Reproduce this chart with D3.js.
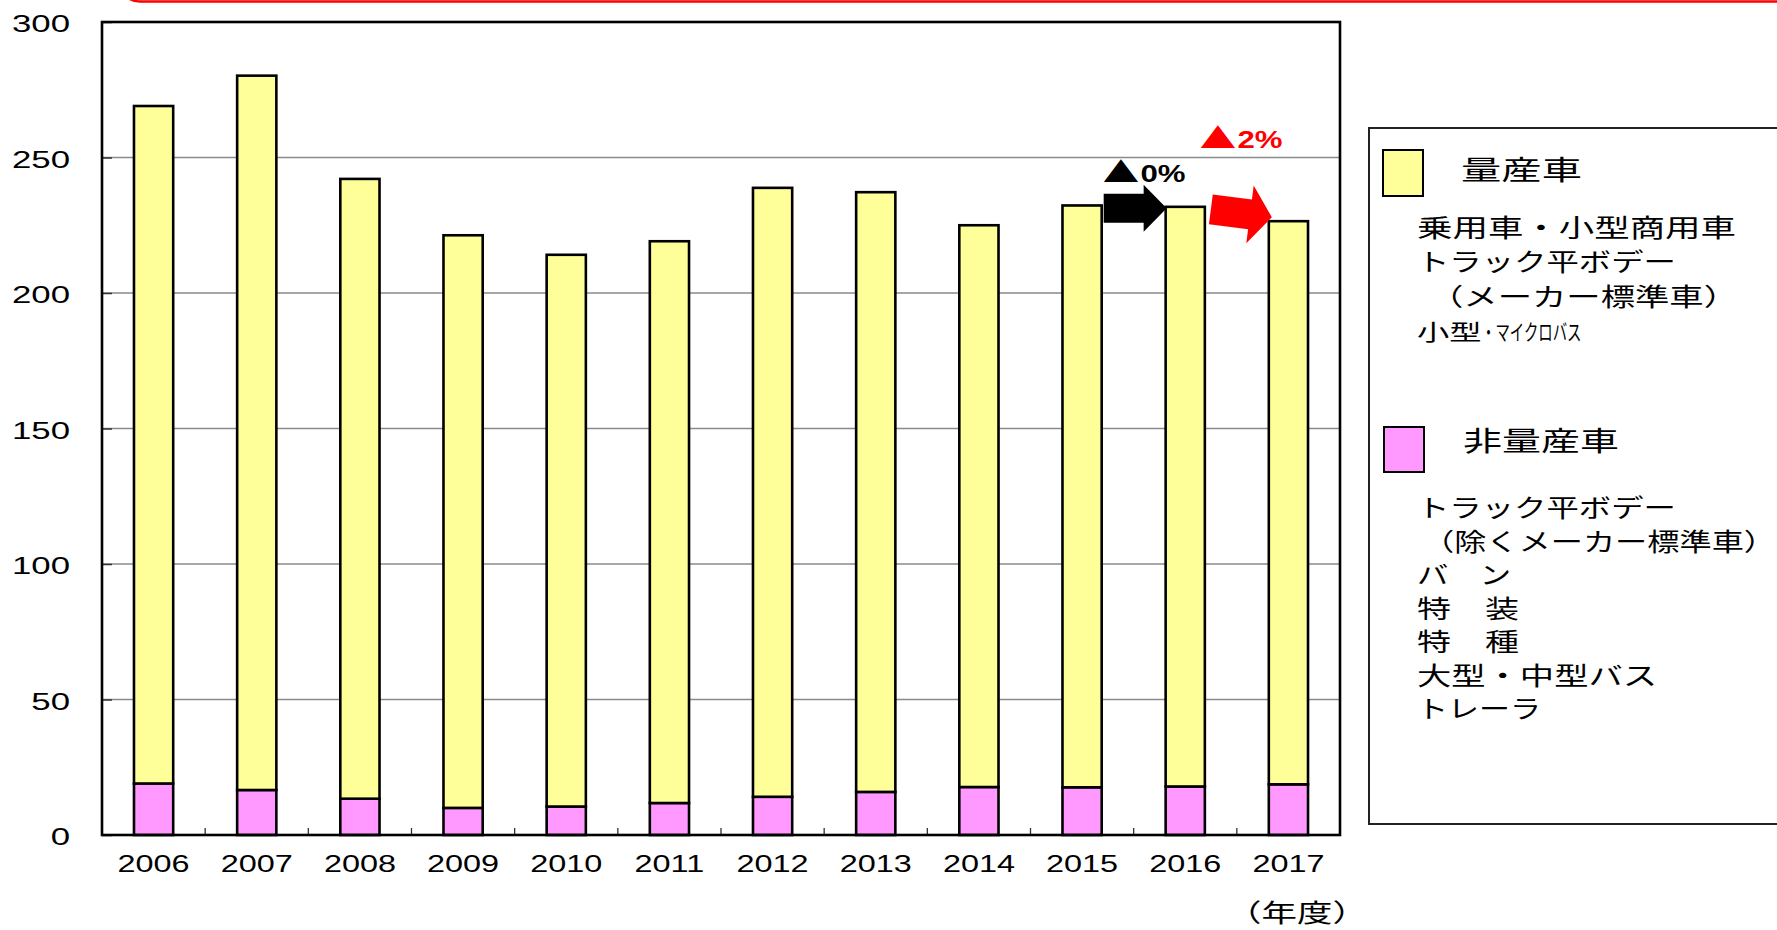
<!DOCTYPE html>
<html>
<head>
<meta charset="utf-8">
<script src="https://cdn.jsdelivr.net/npm/d3@7"></script>
<style>
  html, body { margin: 0; padding: 0; background: #fff; overflow: hidden; }
  svg { display: block; }
</style>
</head>
<body>
<svg id="chart" width="1777" height="930"></svg>
<script>
// ---------------- DATA ----------------
const categories = ["2006","2007","2008","2009","2010","2011","2012","2013","2014","2015","2016","2017"];
// 非量産車 (bottom, pink)
const nonMassProduced = [19.0, 16.6, 13.4, 10.0, 10.5, 11.8, 14.1, 15.9, 17.7, 17.6, 17.9, 18.7];
// 量産車 (top, yellow)
const massProduced = [250.0, 263.6, 228.7, 211.3, 203.6, 207.3, 224.7, 221.3, 207.3, 214.7, 213.9, 207.8];
const yTickValues = [0, 50, 100, 150, 200, 250, 300];
const xAxisTitle = "（年度）";
const legendMassTitle = "量産車";
const legendMassLines = ["乗用車・小型商用車", "トラック平ボデー", "（メーカー標準車）", "小型・マイクロバス"];
const legendNonMassTitle = "非量産車";
const legendNonMassLines = ["トラック平ボデー", "（除くメーカー標準車）", "バ　ン", "特　装", "特　種", "大型・中型バス", "トレーラ"];
const changeLabels = [{ mark: "▲", value: "0%" }, { mark: "▲", value: "2%" }];

// ---------------- SETUP ----------------
const svg = d3.select("#chart");
const W = 1777, H = 930;
const plot = { left: 102, right: 1340, top: 22, bottom: 835 };
const LATIN = "'Liberation Sans', Arial, sans-serif";
const CJK = "'Noto Sans CJK JP', 'Noto Sans CJK SC', sans-serif";
const colMass = "#FFFF99", colNon = "#FF99FF";

svg.append("rect").attr("width", W).attr("height", H).attr("fill", "#fff");

// red rounded frame remnant at top
svg.append("rect").attr("x", 118).attr("y", -80).attr("width", 1720).attr("height", 81.5)
  .attr("rx", 22).attr("fill", "none").attr("stroke", "#ff0000").attr("stroke-width", 2.5);

const x = d3.scaleBand().domain(categories).range([plot.left, plot.right]).padding(0);
const y = d3.scaleLinear().domain([0, 300]).range([plot.bottom, plot.top]);
const barW = x.bandwidth() * 0.38;

const data = categories.map((c, i) => ({ cat: c, nonMass: nonMassProduced[i], mass: massProduced[i] }));
const stack = d3.stack().keys(["nonMass", "mass"])(data);

function sText(parent, px, py, str, sx, opts) {
  return parent.append("text")
    .attr("transform", `translate(${px},${py}) scale(${sx},1)`)
    .attr("font-family", opts.family || LATIN)
    .attr("font-size", opts.size || 24)
    .attr("font-weight", opts.weight || "normal")
    .attr("fill", opts.fill || "#000")
    .attr("text-anchor", opts.anchor || "start")
    .text(str);
}
function fitText(parent, px, py, str, len, size) {
  return parent.append("text")
    .attr("x", px).attr("y", py)
    .attr("font-family", CJK).attr("font-size", size).attr("fill", "#000")
    .attr("textLength", len).attr("lengthAdjust", "spacingAndGlyphs")
    .text(str);
}

// gridlines
const grid = svg.append("g");
grid.selectAll("line").data(yTickValues.filter(v => v > 0 && v < 300)).join("line")
  .attr("x1", plot.left).attr("x2", plot.right)
  .attr("y1", d => y(d)).attr("y2", d => y(d))
  .attr("stroke", "#8a8a8a").attr("stroke-width", 1.3);

// y axis (ticks inward)
const yAxis = svg.append("g").attr("transform", `translate(${plot.left},0)`)
  .call(d3.axisLeft(y).tickValues(yTickValues).tickSizeInner(-10).tickSizeOuter(0).tickFormat(""));
yAxis.select(".domain").remove();
yAxis.selectAll(".tick line").attr("stroke", "#333").attr("stroke-width", 1.5);

// y tick labels
const yLab = svg.append("g");
yTickValues.forEach(v => sText(yLab, 70, y(v) + 10, String(v), 1.45, { anchor: "end", size: 24 }));

// x axis boundary ticks
const xb = svg.append("g");
xb.selectAll("line").data(categories.slice(1)).join("line")
  .attr("x1", d => x(d)).attr("x2", d => x(d))
  .attr("y1", plot.bottom).attr("y2", plot.bottom - 7)
  .attr("stroke", "#333").attr("stroke-width", 1.3);

// x labels via axis positions
const xAxis = svg.append("g").attr("transform", `translate(0,${plot.bottom})`)
  .call(d3.axisBottom(x).tickSize(0).tickFormat(""));
xAxis.select(".domain").remove();
const xLab = svg.append("g");
categories.forEach(c => sText(xLab, x(c) + x.bandwidth() / 2, 872, c, 1.35, { anchor: "middle", size: 24 }));

// bars
const colors = { nonMass: colNon, mass: colMass };
svg.append("g").selectAll("g").data(stack).join("g")
  .attr("fill", d => colors[d.key])
  .selectAll("rect").data(d => d).join("rect")
  .attr("x", d => x(d.data.cat) + x.bandwidth() / 2 - barW / 2)
  .attr("width", barW)
  .attr("y", d => y(d[1]))
  .attr("height", d => y(d[0]) - y(d[1]))
  .attr("stroke", "#000").attr("stroke-width", 2.6);

// plot frame
svg.append("rect").attr("x", plot.left).attr("y", plot.top)
  .attr("width", plot.right - plot.left).attr("height", plot.bottom - plot.top)
  .attr("fill", "none").attr("stroke", "#000").attr("stroke-width", 2.6);

// x axis title
sText(svg, 1297, 922, xAxisTitle, 1.42, { anchor: "middle", size: 25, family: CJK });

// ---------------- ARROWS / ANNOTATIONS ----------------
function arrowPath(x0, y0, x1, y1, shaftHalf, headHalf, headLen) {
  const dx = x1 - x0, dy = y1 - y0;
  const len = Math.hypot(dx, dy);
  const ang = Math.atan2(dy, dx) * 180 / Math.PI;
  const b = len - headLen;
  const pts = [[0, -shaftHalf], [b, -shaftHalf], [b, -headHalf], [len, 0], [b, headHalf], [b, shaftHalf], [0, shaftHalf]];
  return { d: "M" + pts.map(p => p.join(",")).join("L") + "Z", transform: `translate(${x0},${y0}) rotate(${ang})` };
}
const total = i => nonMassProduced[i] + massProduced[i];
const i16 = categories.indexOf("2016"), i17 = categories.indexOf("2017");
const barLeft = c => x(c) + x.bandwidth() / 2 - barW / 2;
const barRight = c => x(c) + x.bandwidth() / 2 + barW / 2;

// black arrow 2015 -> 2016
const a1 = arrowPath(barRight("2015") + 2, y(total(i16)) + 1.5, barLeft("2016") + 1, y(total(i16)) + 1.5, 14.5, 23.5, 23);
svg.append("path").attr("d", a1.d).attr("transform", a1.transform).attr("fill", "#000");
// red arrow 2016 -> 2017
const a2 = arrowPath(barRight("2016") + 6, y(total(i16)) + 2.5, barLeft("2017") + 3, y(total(i17)) - 4, 15, 29, 22);
svg.append("path").attr("d", a2.d).attr("transform", a2.transform).attr("fill", "#ff0000");

function changeLabel(px, py, lab, color) {
  const t = svg.append("text")
    .attr("transform", `translate(${px},${py}) scale(1.3,1)`)
    .attr("font-weight", "bold").attr("fill", color);
  t.append("tspan").attr("font-family", CJK).attr("font-size", 28).attr("dy", 1).text(lab.mark);
  t.append("tspan").attr("font-family", LATIN).attr("font-size", 24).attr("dx", 1).attr("dy", -1).text(lab.value);
}
changeLabel(barRight("2015") + 1, 182, changeLabels[0], "#000");
changeLabel(barLeft("2017") - 69, 148, changeLabels[1], "#ff0000");

// ---------------- LEGEND ----------------
const lg = svg.append("g");
lg.append("rect").attr("x", 1369).attr("y", 128).attr("width", 500).attr("height", 696)
  .attr("fill", "#fff").attr("stroke", "#222").attr("stroke-width", 2);
lg.append("rect").attr("x", 1383).attr("y", 150).attr("width", 40).attr("height", 46)
  .attr("fill", colMass).attr("stroke", "#000").attr("stroke-width", 2);
lg.append("rect").attr("x", 1384).attr("y", 427).attr("width", 40).attr("height", 45)
  .attr("fill", colNon).attr("stroke", "#000").attr("stroke-width", 2);

// layout: [x, line width] for each legend line
const massLayout = [[1417, 319], [1417, 259], [1429, 309], [1417, 167]];
const nonLayout = [[1417, 259], [1422, 354], [1417, 94], [1417, 102], [1417, 102], [1417, 240], [1417, 124]];

fitText(lg, 1461, 180, legendMassTitle, 121, 27);
legendMassLines.forEach((s, i) => {
  const py = 237 + i * 34.3;
  if (s.includes("・") && i === 3) {
    // narrow katakana line: kanji at normal width, dot and katakana condensed
    const [head, tail] = s.split("・");
    const sx = 1.5;
    const t = lg.append("text")
      .attr("transform", `translate(${massLayout[i][0]},${py}) scale(${sx},1)`)
      .attr("font-family", CJK).attr("font-size", 21.5).attr("fill", "#000");
    t.append("tspan").text(head);
    t.append("tspan").attr("textLength", 14 / sx).attr("lengthAdjust", "spacingAndGlyphs").text("・");
    t.append("tspan").attr("textLength", 86 / sx).attr("lengthAdjust", "spacingAndGlyphs").text(tail);
  } else {
    fitText(lg, massLayout[i][0], py, s, massLayout[i][1], 24.5);
  }
});
fitText(lg, 1463, 451, legendNonMassTitle, 156, 27);
legendNonMassLines.forEach((s, i) => fitText(lg, nonLayout[i][0], 517 + i * 33.5, s, nonLayout[i][1], 24.5));
</script>
</body>
</html>
